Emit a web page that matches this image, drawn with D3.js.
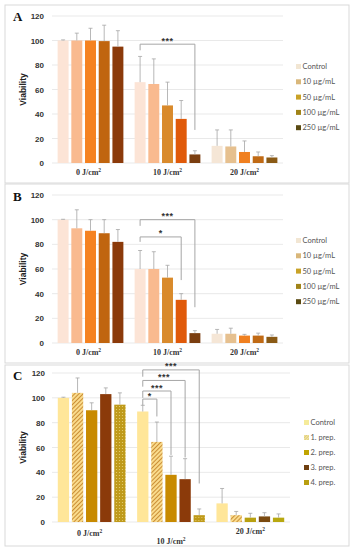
<!DOCTYPE html>
<html>
<head>
<meta charset="utf-8">
<script src="https://cdn.jsdelivr.net/npm/d3@7"></script>
<style>
  body { margin: 0; background: #fff; }
  svg { display: block; }
</style>
</head>
<body>
<div id="display"></div>
<script>
// ---- data ----
const doses = ["0 J/cm", "10 J/cm", "20 J/cm"];
const yTicks = [0, 20, 40, 60, 80, 100, 120];

const seriesA = ["Control", "10 µg/mL", "50 µg/mL", "100 µg/mL", "250 µg/mL"];
const valuesA = [[100, 100, 100, 99.5, 95], [66, 64.5, 47, 36, 7], [14, 13.5, 9, 5.5, 4.5]];
const errorsA = [[0.5, 6, 10, 13, 13], [21, 20.5, 19, 15, 3], [13, 13.5, 9, 3.5, 1.5]];

const seriesB = ["Control", "10 µg/mL", "50 µg/mL", "100 µg/mL", "250 µg/mL"];
const valuesB = [[100, 93, 91, 89, 82], [60, 60, 53, 35, 8], [7.5, 7.5, 6, 6, 5]];
const errorsB = [[0.3, 15, 9, 11, 10], [15, 14, 10, 5, 2], [3.5, 4.5, 1, 2, 1.5]];

const seriesC = ["Control", "1. prep.", "2. prep.", "3. prep.", "4. prep."];
const valuesC = [[100, 104, 90, 103, 94.5], [89, 64.5, 38, 34.5, 5.5], [15, 5.5, 3.5, 4.5, 3.5]];
const errorsC = [[0.5, 12, 6, 5, 9.5], [5, 16, 15, 16.5, 5], [12, 3, 3.5, 3, 3]];

// significance brackets: from series i to series j in the 10 J/cm2 group
const sigA = [{ from: 0, to: 4, label: "***", top: 97, left: 92, right: 27 }];
const sigB = [
  { from: 0, to: 4, label: "***", top: 100, left: 95, right: 29 },
  { from: 0, to: 3, label: "*", top: 86, left: 82, right: 51 }
];
const sigC = [
  { from: 0, to: 4, label: "***", top: 122.5, left: 117, right: 31 },
  { from: 0, to: 3, label: "***", top: 114, left: 109, right: 52 },
  { from: 0, to: 2, label: "***", top: 105.5, left: 100, right: 54 },
  { from: 0, to: 1, label: "*", top: 99, left: 94, right: 85 }
];

// ---- styles ----
const barColorsAB = [
  ["#FCE4D6", "#F9BA8F", "#F58220", "#C0650F", "#8B3A0A"],
  ["#FCE4D6", "#F9BA8F", "#D98A2B", "#E05A0A", "#7A3E10"],
  ["#F5E6D6", "#E6C08F", "#F08020", "#C06A15", "#8A5A15"]
];
const legendColorsAB = ["#F2E6D3", "#D9B77A", "#C9A227", "#A08318", "#5A4A12"];
const barColorsC = [
  ["#FFE699", "url(#hatch)", "#C88A00", "#8B3A0A", "url(#dots)"],
  ["#FFE699", "url(#hatch)", "#C88A00", "#8B3A0A", "url(#dots)"],
  ["#FFE699", "url(#hatch)", "#B8A010", "#7A4A10", "#B8A810"]
];
const legendColorsC = ["#F5EB9A", "url(#hatchS)", "#C0A400", "#6E3F10", "#B89E10"];

const W = 353, H = 550;
const svg = d3.select("#display").append("svg").attr("width", W).attr("height", H);
svg.append("rect").attr("width", W).attr("height", H).attr("fill", "#fff");

// patterns
const defs = svg.append("defs");
const hatch = defs.append("pattern").attr("id", "hatch").attr("patternUnits", "userSpaceOnUse")
  .attr("width", 3).attr("height", 3).attr("patternTransform", "rotate(45)");
hatch.append("rect").attr("width", 3).attr("height", 3).attr("fill", "#F9DB8C");
hatch.append("line").attr("x1", 0).attr("y1", 0).attr("x2", 0).attr("y2", 3)
  .attr("stroke", "#C07A20").attr("stroke-width", 1.6);
const hatchS = defs.append("pattern").attr("id", "hatchS").attr("patternUnits", "userSpaceOnUse")
  .attr("width", 2).attr("height", 2).attr("patternTransform", "rotate(45)");
hatchS.append("rect").attr("width", 2).attr("height", 2).attr("fill", "#F3E6A8");
hatchS.append("line").attr("x1", 0).attr("y1", 0).attr("x2", 0).attr("y2", 2)
  .attr("stroke", "#C9B24A").attr("stroke-width", 1);
const dots = defs.append("pattern").attr("id", "dots").attr("patternUnits", "userSpaceOnUse")
  .attr("width", 3).attr("height", 3);
dots.append("rect").attr("width", 3).attr("height", 3).attr("fill", "#BF9A1A");
dots.append("circle").attr("cx", 1.5).attr("cy", 1.5).attr("r", 0.6).attr("fill", "#E8D27A");

function drawPanel(cfg) {
  const g = svg.append("g");

  // frame
  g.append("rect").attr("x", cfg.frame[0]).attr("y", cfg.frame[1])
    .attr("width", cfg.frame[2]).attr("height", cfg.frame[3])
    .attr("fill", "none").attr("stroke", "#D9D9D9").attr("stroke-width", 1);

  const y = d3.scaleLinear().domain([0, 120]).range([cfg.y0, cfg.y120]);
  const x0 = d3.scaleBand().domain(doses).range([cfg.xl, cfg.xr]).padding(0);
  const x1 = d3.scaleBand().domain(d3.range(5)).range([0, x0.bandwidth()])
    .paddingInner(0.2).paddingOuter(0.41);

  // grid
  g.append("g").selectAll("line").data(yTicks).join("line")
    .attr("x1", cfg.xl).attr("x2", cfg.xr)
    .attr("y1", d => y(d)).attr("y2", d => y(d))
    .attr("stroke", "#E3E3E3").attr("stroke-width", 0.8);

  // y axis labels
  const yAxis = d3.axisLeft(y).tickValues(yTicks).tickSize(0).tickPadding(0);
  const gy = g.append("g").attr("transform", `translate(${cfg.tickX},0)`).call(yAxis);
  gy.select(".domain").remove();
  gy.selectAll("text").attr("font-family", "Liberation Sans, Arial, sans-serif")
    .attr("font-weight", "bold").attr("font-size", 8).attr("fill", "#333");

  // bars
  cfg.values.forEach((grp, gi) => {
    const gg = g.append("g").attr("transform", `translate(${x0(doses[gi])},0)`);
    gg.selectAll("rect").data(grp).join("rect")
      .attr("x", (d, i) => x1(i)).attr("width", x1.bandwidth())
      .attr("y", d => y(d)).attr("height", d => y(0) - y(d))
      .attr("fill", (d, i) => cfg.colors[gi][i]);
    // error bars
    const eb = gg.selectAll("g.err").data(grp).join("g").attr("class", "err");
    eb.append("line")
      .attr("x1", (d, i) => x1(i) + x1.bandwidth() / 2).attr("x2", (d, i) => x1(i) + x1.bandwidth() / 2)
      .attr("y1", d => y(d)).attr("y2", (d, i) => y(d + cfg.errors[gi][i]))
      .attr("stroke", "#A6A6A6").attr("stroke-width", 0.8);
    eb.append("line")
      .attr("x1", (d, i) => x1(i) + x1.bandwidth() / 2 - 2).attr("x2", (d, i) => x1(i) + x1.bandwidth() / 2 + 2)
      .attr("y1", (d, i) => y(d + cfg.errors[gi][i])).attr("y2", (d, i) => y(d + cfg.errors[gi][i]))
      .attr("stroke", "#A6A6A6").attr("stroke-width", 0.8);
  });

  // category labels
  doses.forEach((d, i) => {
    const t = g.append("text")
      .attr("x", x0(d) + x0.bandwidth() / 2 + cfg.catDx[i]).attr("y", cfg.catY + cfg.catDy[i])
      .attr("text-anchor", "middle").attr("font-family", "Liberation Serif, Times New Roman, serif")
      .attr("font-weight", "bold").attr("font-size", 8).attr("fill", "#333");
    t.append("tspan").text(d);
    t.append("tspan").attr("dy", -3).attr("font-size", 5.5).text("2");
  });

  // significance brackets
  const gx = x0(doses[1]);
  cfg.sig.forEach(s => {
    const xa = gx + x1(s.from) + x1.bandwidth() / 2;
    const xb = gx + x1(s.to) + x1.bandwidth() / 2;
    g.append("path")
      .attr("d", `M${xa},${y(s.left)}V${y(s.top)}H${xb}V${y(s.right)}`)
      .attr("fill", "none").attr("stroke", "#A6A6A6").attr("stroke-width", 1);
    g.append("text").attr("x", (xa + xb) / 2).attr("y", y(s.top) - 0.5)
      .attr("text-anchor", "middle").attr("font-family", "Liberation Sans, Arial, sans-serif")
      .attr("font-weight", "bold").attr("font-size", 9).attr("letter-spacing", 0.5)
      .attr("fill", "#333").text(s.label);
  });

  // axis title
  g.append("text")
    .attr("transform", `translate(${cfg.titleX},${(cfg.y0 + cfg.y120) / 2}) rotate(-90)`)
    .attr("text-anchor", "middle").attr("font-family", "Liberation Sans, Arial, sans-serif")
    .attr("font-weight", "bold").attr("font-size", 8.5).attr("fill", "#222").text("Viability");

  // panel letter
  g.append("text").attr("x", 13).attr("y", cfg.letterY)
    .attr("font-family", "Liberation Serif, Times New Roman, serif")
    .attr("font-weight", "bold").attr("font-size", 13).attr("fill", "#111").text(cfg.letter);

  // legend
  const lg = g.append("g").selectAll("g").data(cfg.series).join("g")
    .attr("transform", (d, i) => `translate(${cfg.legX},${cfg.legY + i * cfg.legStep})`);
  lg.append("rect").attr("x", 0).attr("y", -5).attr("width", 5).attr("height", 5)
    .attr("fill", (d, i) => cfg.legColors[i]);
  lg.append("text").attr("x", cfg.legTextDx).attr("y", 0)
    .attr("font-family", "Lato, Open Sans, sans-serif").attr("font-size", 7.5)
    .attr("fill", "#555").text(d => d);
}

drawPanel({
  letter: "A", letterY: 21, frame: [5, 5, 344, 178],
  y0: 163, y120: 16, xl: 52, xr: 283, tickX: 44, titleX: 26,
  catY: 175, catDy: [0, 0, 0], catDx: [-2, 0, 0],
  values: valuesA, errors: errorsA, colors: barColorsAB, sig: sigA,
  series: seriesA, legColors: legendColorsAB,
  legX: 296, legY: 69, legStep: 15.3, legTextDx: 6.5
});
drawPanel({
  letter: "B", letterY: 201, frame: [5, 184, 344, 179],
  y0: 343, y120: 195, xl: 52, xr: 283, tickX: 44, titleX: 26,
  catY: 355, catDy: [0, 0, 0], catDx: [-2, 0, 0],
  values: valuesB, errors: errorsB, colors: barColorsAB, sig: sigB,
  series: seriesB, legColors: legendColorsAB,
  legX: 296, legY: 243, legStep: 15.3, legTextDx: 6.5
});
drawPanel({
  letter: "C", letterY: 380, frame: [5, 365, 344, 181],
  y0: 522, y120: 373, xl: 52, xr: 290, tickX: 45, titleX: 26,
  catY: 536, catDy: [0, 8, -2], catDx: [-2, 0, 0],
  values: valuesC, errors: errorsC, colors: barColorsC, sig: sigC,
  series: seriesC, legColors: legendColorsC,
  legX: 304, legY: 425, legStep: 15, legTextDx: 6.5
});
</script>
</body>
</html>
